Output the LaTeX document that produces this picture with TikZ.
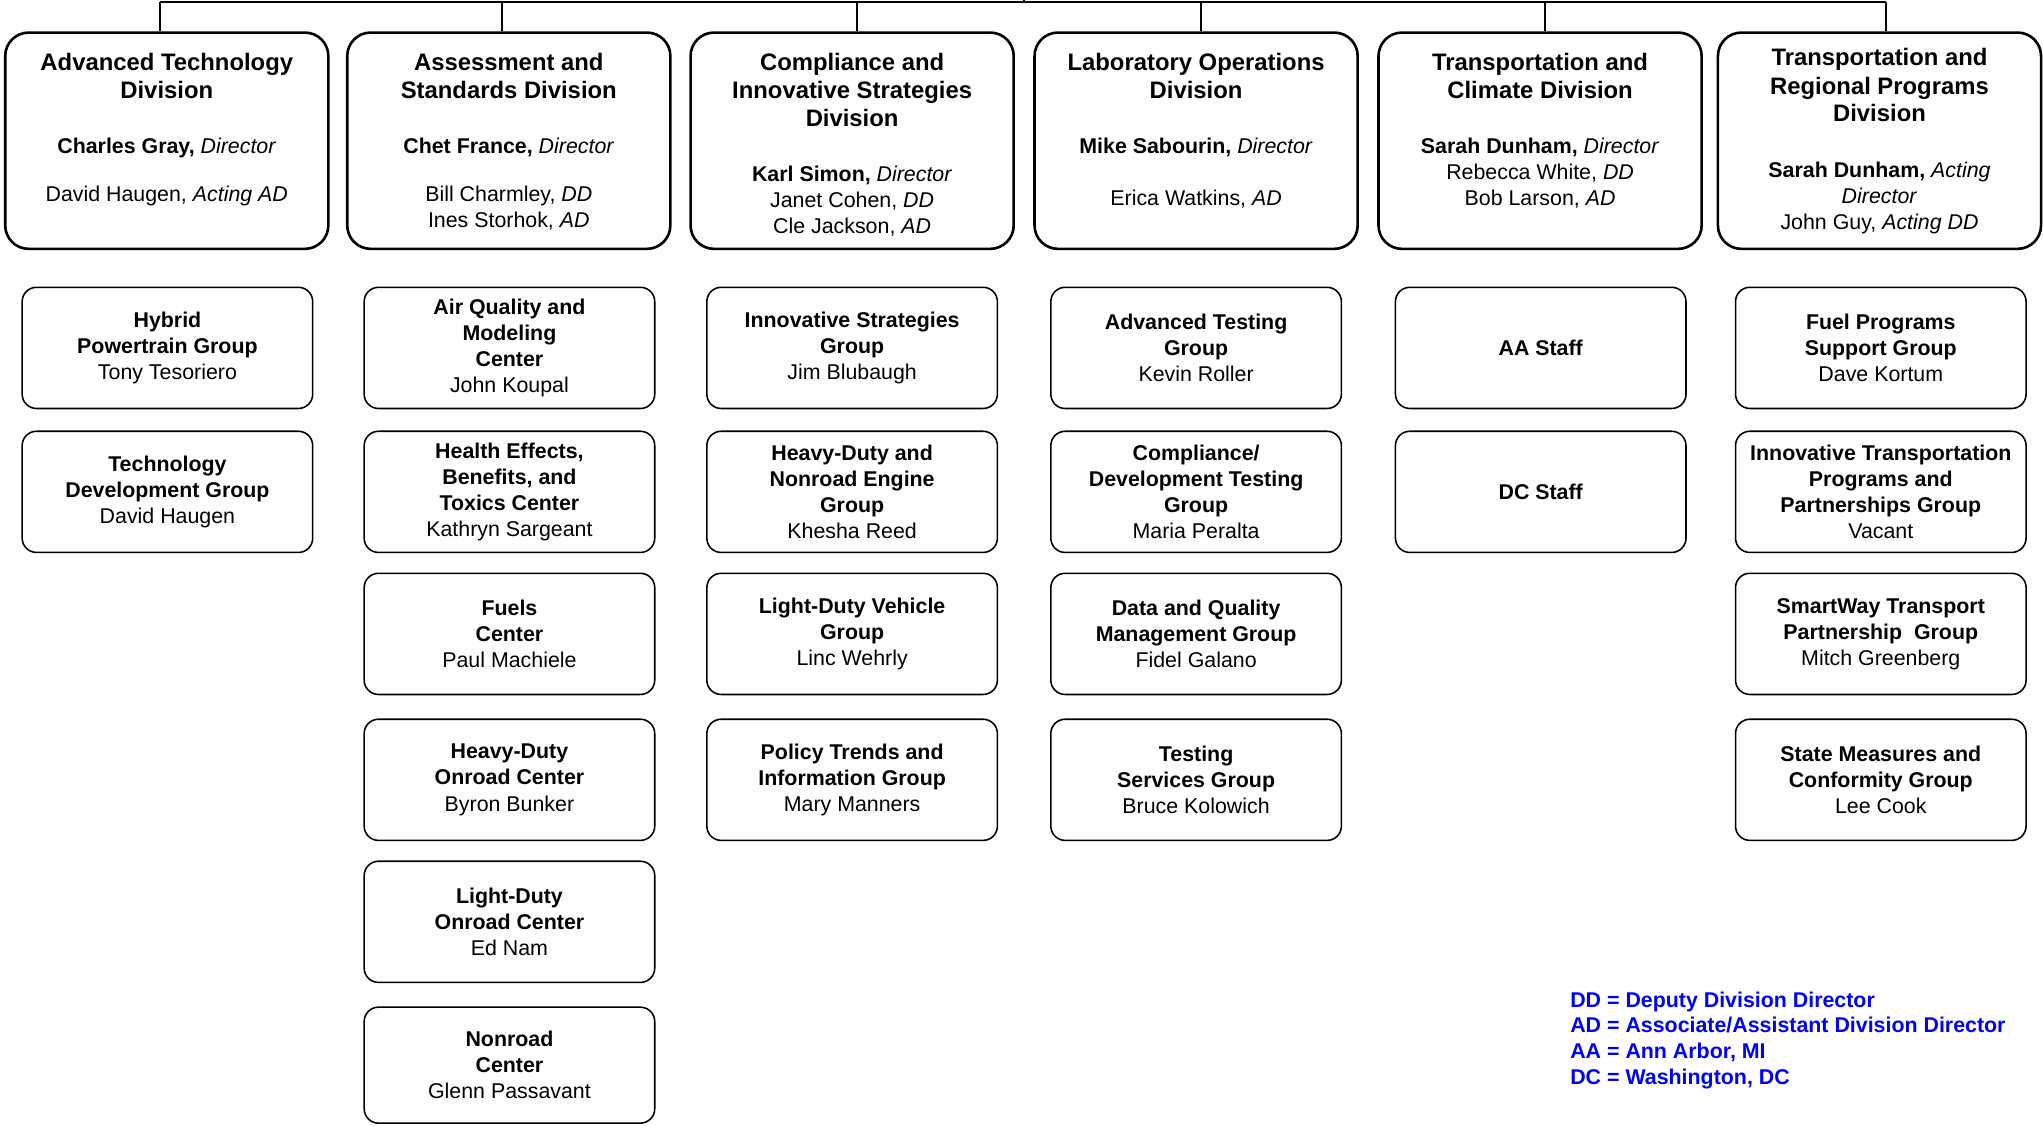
\documentclass[tikz,border=0pt]{standalone}
\usepackage{fontspec}
\setmainfont{Liberation Sans}
\usepackage{tikz}
\usetikzlibrary{positioning}
\definecolor{legendblue}{RGB}{0,0,255}
\newcommand{\dtitle}[1]{{\fontsize{18.3}{21}\selectfont\bfseries #1}}
\newcommand{\gb}[1]{{\bfseries #1}}

\begin{document}
\begin{tikzpicture}[x=1pt,y=-1pt,
  divbox/.style={draw,line width=2pt,rounded corners=18pt,minimum width=248pt,minimum height=166pt,inner sep=0pt},
  divtext/.style={align=center,inner sep=0pt,font=\fontsize{16.4}{20}\selectfont},
  grpbox/.style={draw,line width=1.2pt,rounded corners=11pt,minimum width=223pt,minimum height=93pt,inner sep=0pt,align=center,font=\fontsize{16.4}{20}\selectfont},
  keytext/.style={align=left,inner sep=0pt,text=legendblue,font=\fontsize{16.4}{19.7}\selectfont\bfseries},
  conn/.style={line width=1.5pt}]
\useasboundingbox (0,0) rectangle (1568,864);
%Spaltenmitten der Gruppen
  \pgfmathsetmacro{\ca}{128.5}
  \pgfmathsetmacro{\cb}{391}
  \pgfmathsetmacro{\cc}{654}
  \pgfmathsetmacro{\cd}{918}
  \pgfmathsetmacro{\ce}{1182.5}
  \pgfmathsetmacro{\cf}{1443.5}
%Divisionen
\node[divbox] (d1) at (128,108) {};
\node[divbox] (d2) at (390.5,108) {};
\node[divbox] (d3) at (654,108) {};
\node[divbox] (d4) at (918,108) {};
\node[divbox] (d5) at (1182,108) {};
\node[divbox] (d6) at (1442.5,108) {};
\node[divtext,below=17pt of d1.north] (d1t) {\dtitle{Advanced Technology}\\[1pt]\dtitle{Division}\\[22pt]\textbf{Charles Gray,} \textit{Director}\\[17pt]David Haugen, \textit{Acting AD}};
\node[divtext,below=17pt of d2.north] (d2t) {\dtitle{Assessment and}\\[1pt]\dtitle{Standards Division}\\[22pt]\textbf{Chet France,} \textit{Director}\\[17pt]Bill Charmley, \textit{DD}\\Ines Storhok, \textit{AD}};
\node[divtext,below=17pt of d3.north] (d3t) {\dtitle{Compliance and}\\[1pt]\dtitle{Innovative Strategies}\\[2pt]\dtitle{Division}\\[22pt]\textbf{Karl Simon,} \textit{Director}\\Janet Cohen, \textit{DD}\\Cle Jackson, \textit{AD}};
\node[divtext,below=17pt of d4.north] (d4t) {\dtitle{Laboratory Operations}\\[1pt]\dtitle{Division}\\[22pt]\textbf{Mike Sabourin,} \textit{Director}\\[20pt]Erica Watkins, \textit{AD}};
\node[divtext,below=17pt of d5.north] (d5t) {\dtitle{Transportation and}\\[1pt]\dtitle{Climate Division}\\[22pt]\textbf{Sarah Dunham,} \textit{Director}\\Rebecca White, \textit{DD}\\Bob Larson, \textit{AD}};
\node[divtext,below=13pt of d6.north] (d6t) {\dtitle{Transportation and}\\[2pt]\dtitle{Regional Programs}\\[1pt]\dtitle{Division}\\[23pt]\textbf{Sarah Dunham,} \textit{Acting}\\\textit{Director}\\John Guy, \textit{Acting DD}};
%Verbindungen
\coordinate (top) at (786,0);
\coordinate (bus) at (786,1.5);
\draw[conn] ([xshift=-5pt]d1.north |- bus) -- ([xshift=5pt]d6.north |- bus);
\draw[conn] (top) -- (bus);
\foreach \i/\dx in {1/-5,2/-5,3/4,4/4,5/4,6/5}{
\draw[conn] ([xshift=\dx pt]d\i.north) -- ([xshift=\dx pt]d\i.north |- bus);
}
%Gruppen
\node[grpbox] (g11) at (\ca,267) {\gb{Hybrid}\\\gb{Powertrain Group}\\Tony Tesoriero};
\node[grpbox] (g12) at (\ca,377.5) {\gb{Technology}\\\gb{Development Group}\\David Haugen};
\node[grpbox] (g21) at (\cb,267) {\gb{Air Quality and}\\\gb{Modeling}\\\gb{Center}\\John Koupal};
\node[grpbox] (g22) at (\cb,377.5) {\gb{Health Effects,}\\\gb{Benefits, and}\\\gb{Toxics Center}\\Kathryn Sargeant};
\node[grpbox] (g23) at (\cb,486.5) {\gb{Fuels}\\\gb{Center}\\Paul Machiele};
\node[grpbox] (g24) at (\cb,598.5) {\gb{Heavy-Duty}\\\gb{Onroad Center}\\Byron Bunker};
\node[grpbox] (g25) at (\cb,707.5) {\gb{Light-Duty}\\\gb{Onroad Center}\\Ed Nam};
\node[grpbox,minimum height=89pt] (g26) at (\cb,817.5) {\gb{Nonroad}\\\gb{Center}\\Glenn Passavant};
\node[grpbox] (g31) at (\cc,267) {\gb{Innovative Strategies}\\\gb{Group}\\Jim Blubaugh};
\node[grpbox] (g32) at (\cc,377.5) {\gb{Heavy-Duty and}\\\gb{Nonroad Engine}\\\gb{Group}\\Khesha Reed};
\node[grpbox] (g33) at (\cc,486.5) {\gb{Light-Duty Vehicle}\\\gb{Group}\\Linc Wehrly};
\node[grpbox] (g34) at (\cc,598.5) {\gb{Policy Trends and}\\\gb{Information Group}\\Mary Manners};
\node[grpbox] (g41) at (\cd,267) {\gb{Advanced Testing}\\\gb{Group}\\Kevin Roller};
\node[grpbox] (g42) at (\cd,377.5) {\gb{Compliance/}\\\gb{Development Testing}\\\gb{Group}\\Maria Peralta};
\node[grpbox] (g43) at (\cd,486.5) {\gb{Data and Quality}\\\gb{Management Group}\\Fidel Galano};
\node[grpbox] (g44) at (\cd,598.5) {\gb{Testing}\\\gb{Services Group}\\Bruce Kolowich};
\node[grpbox] (g51) at (\ce,267) {\gb{AA Staff}};
\node[grpbox] (g52) at (\ce,377.5) {\gb{DC Staff}};
\node[grpbox] (g61) at (\cf,267) {\gb{Fuel Programs}\\\gb{Support Group}\\Dave Kortum};
\node[grpbox] (g62) at (\cf,377.5) {\gb{Innovative Transportation}\\\gb{Programs and}\\\gb{Partnerships Group}\\Vacant};
\node[grpbox] (g63) at (\cf,486.5) {\gb{SmartWay Transport}\\\gb{Partnership\ \ Group}\\Mitch Greenberg};
\node[grpbox] (g64) at (\cf,598.5) {\gb{State Measures and}\\\gb{Conformity Group}\\Lee Cook};
%Legende
\node[keytext,anchor=north west] (key) at (1205,761) {DD = Deputy Division Director\\AD = Associate/Assistant Division Director\\AA = Ann Arbor, MI\\DC = Washington, DC};
\end{tikzpicture}
\end{document}
